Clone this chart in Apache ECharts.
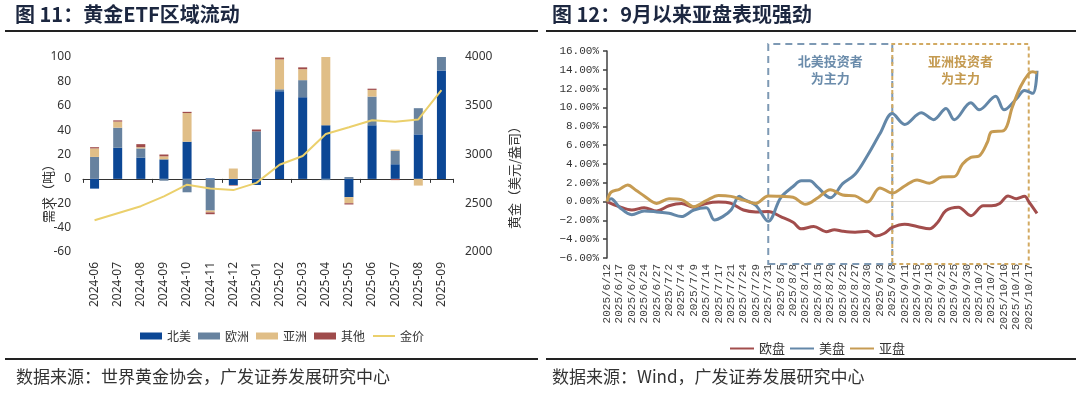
<!DOCTYPE html>
<html><head><meta charset="utf-8">
<script src="https://cdn.jsdelivr.net/npm/echarts@6/dist/echarts.min.js"></script>
<style>html,body{margin:0;padding:0;background:#fff}#c{width:1080px;height:393px}</style>
</head><body><div id="c"></div>
<script>
// ---------- Left chart: 黄金ETF区域流动 ----------
const months = ['2024-06','2024-07','2024-08','2024-09','2024-10','2024-11','2024-12','2025-01','2025-02','2025-03','2025-04','2025-05','2025-06','2025-07','2025-08','2025-09'];
const northAmerica = [-8, 25.5, 17.5, 16, 30.5, 0.5, -5, -5, 72, 67, 44, -15, 44, 12, 36.5, 89];
const europe      = [18, 16.5, 7.5, -1.5, -11, -26, 0, 39, 1.5, 14, -1, 1.5, 23.5, 11, 21.5, 11];
const asia        = [7, 5, 1, 2.5, 23.5, -1.5, 8.5, 0, 24.5, 9, 56, -5, 5.5, 1, -5.5, 0];
const others      = [1, 1, 2.5, 1.5, 1, -1.5, -0.5, 1.5, 1.5, 1.5, 0, -1, 1, -1, 0, 0];
const goldPrice   = [2326, 2398, 2470, 2570, 2690, 2651, 2635, 2709, 2895, 2984, 3210, 3280, 3352, 3337, 3360, 3660];

// ---------- Right chart: 9月以来亚盘表现强劲 ----------
const dateLabels = ['2025/6/12','2025/6/17','2025/6/20','2025/6/24','2025/6/27','2025/7/2','2025/7/4','2025/7/9','2025/7/14','2025/7/17','2025/7/21','2025/7/24','2025/7/29','2025/7/31','2025/8/5','2025/8/8','2025/8/12','2025/8/15','2025/8/20','2025/8/22','2025/8/27','2025/8/30','2025/9/3','2025/9/8','2025/9/11','2025/9/15','2025/9/18','2025/9/23','2025/9/25','2025/9/30','2025/10/3','2025/10/7','2025/10/10','2025/10/15','2025/10/17'];
// [trading-day index, cumulative %]; labels mark every 3rd trading day
const euSession = [[0,0],[3,-0.55],[6,-0.9],[9,-0.65],[12,-1.0],[15,-0.45],[18,-0.2],[21,-0.6],[24,-0.2],[27,-0.05],[30,-0.2],[33,-0.9],[36,-1.1],[39,-1.05],[42,-1.6],[45,-2.2],[47,-2.9],[50,-2.65],[53,-3.2],[55,-3.0],[57,-3.15],[60,-3.25],[63,-3.15],[65,-3.65],[67,-3.4],[69,-2.75],[72,-2.4],[75,-2.65],[78,-2.9],[80,-2.2],[82,-0.95],[85,-0.6],[88,-1.5],[91,-0.45],[93,-0.45],[95,-0.2],[97,0.6],[99,0.3],[101,0.55],[102,0.0],[104,-1.25]];
const usSession = [[0,0],[1,0.3],[3,-0.6],[6,-1.4],[9,-1.0],[12,-1.1],[15,-1.25],[18,-1.6],[21,-0.9],[24,-0.65],[26,-1.95],[28,-1.6],[30,-0.9],[32,0.55],[33,0.25],[36,-0.4],[39,-2.1],[42,0.4],[45,1.6],[47,2.2],[49,2.2],[51,1.5],[54,0.4],[57,1.9],[60,2.9],[63,4.9],[66,7.2],[69,9.35],[72,8.2],[76,9.45],[79,8.7],[82,9.9],[84,8.7],[88,10.5],[90,9.75],[94,11.2],[96,9.75],[99,10.9],[101,11.8],[103,11.5],[104,13.9]];
const asiaSession = [[0,0],[1,1.0],[3,1.3],[5,1.75],[7,1.2],[9,0.6],[12,-0.2],[15,0.3],[18,0.2],[21,-0.55],[24,0.1],[27,0.65],[30,0.55],[33,0.15],[36,-0.2],[39,0.6],[42,0.55],[45,0.45],[48,-0.3],[51,0.4],[54,1.25],[57,0.7],[60,0.6],[63,-0.05],[66,1.45],[69,0.9],[72,1.65],[75,2.3],[78,1.95],[81,2.6],[84,2.65],[86,4.0],[88,4.7],[90,4.85],[92,6.3],[93,7.4],[96,7.55],[98,10.0],[100,12.2],[102,13.6],[103,13.8],[104,13.65]];
const naBoxRange = ['2025/7/31', '2025/9/8'];
const asiaBoxRange = ['2025/9/8', '2025/10/17'];

// category list: each label followed by two unlabelled trading days
const dayCats = dateLabels.flatMap(d => [d, d + '#1', d + '#2']);

const SANS = "'Noto Sans', 'Noto Sans CJK SC', sans-serif";
const CJK = "'Noto Sans CJK SC', sans-serif";
const MONO = "'Liberation Mono', 'Noto Sans CJK SC', monospace";
const noSym = {opacity: 0};

const chart = echarts.init(document.getElementById('c'));
chart.setOption({
  animation: false,
  backgroundColor: '#fff',
  title: [
    {text: '图 11：黄金ETF区域流动', left: 15, top: 4, padding: 0,
     textStyle: {fontFamily: CJK, fontSize: 20, fontWeight: 'bold', color: '#1c2740'}},
    {text: '图 12：9月以来亚盘表现强劲', left: 552, top: 4, padding: 0,
     textStyle: {fontFamily: CJK, fontSize: 20, fontWeight: 'bold', color: '#1c2740'}},
    {text: '数据来源：世界黄金协会，广发证券发展研究中心', left: 16, top: 368, padding: 0,
     textStyle: {fontFamily: CJK, fontSize: 17, fontWeight: 'normal', color: '#333'}},
    {text: '数据来源：Wind，广发证券发展研究中心', left: 552, top: 368, padding: 0,
     textStyle: {fontFamily: CJK, fontSize: 17, fontWeight: 'normal', color: '#333'}}
  ],
  graphic: [
    {type: 'line', shape: {x1: 5, y1: 31, x2: 538, y2: 31}, style: {stroke: '#222', lineWidth: 2}},
    {type: 'line', shape: {x1: 546, y1: 31, x2: 1076, y2: 31}, style: {stroke: '#222', lineWidth: 2}},
    {type: 'line', shape: {x1: 5, y1: 359, x2: 538, y2: 359}, style: {stroke: '#222', lineWidth: 2}},
    {type: 'line', shape: {x1: 546, y1: 359, x2: 1076, y2: 359}, style: {stroke: '#222', lineWidth: 2}}
  ],
  legend: [
    {left: 135, top: 325, itemWidth: 22, itemHeight: 7, itemGap: 7,
     textStyle: {fontFamily: CJK, fontSize: 12, color: '#333'},
     data: [{name: '北美', icon: 'rect'}, {name: '欧洲', icon: 'rect'}, {name: '亚洲', icon: 'rect'}, {name: '其他', icon: 'rect'}, {name: '金价', itemStyle: noSym}]},
    {left: 724, top: 337, itemWidth: 24, itemHeight: 8, itemGap: 4,
     textStyle: {fontFamily: CJK, fontSize: 13, color: '#333'},
     data: [{name: '欧盘', itemStyle: noSym}, {name: '美盘', itemStyle: noSym}, {name: '亚盘', itemStyle: noSym}]}
  ],
  grid: [
    {left: 83, width: 370, top: 57, height: 195},
    {left: 607, width: 430, top: 51, height: 207},
    {left: 607, width: 430, top: 44, height: 220}
  ],
  xAxis: [
    {type: 'category', gridIndex: 0, data: months, position: 'bottom',
     axisLine: {onZero: true, lineStyle: {color: '#333', width: 1}},
     axisTick: {show: true, length: 4, lineStyle: {color: '#333'}},
     axisLabel: {show: false}, splitLine: {show: false}},
    {type: 'category', gridIndex: 0, data: months, position: 'bottom',
     axisLine: {show: false, onZero: false}, axisTick: {show: false},
     axisLabel: {rotate: 90, margin: 10, fontFamily: SANS, fontSize: 12, color: '#333', interval: 0}},
    {type: 'category', gridIndex: 1, data: dayCats, boundaryGap: false, position: 'bottom',
     axisLine: {onZero: true, lineStyle: {color: '#dcdcdc', width: 1}},
     axisTick: {show: false}, axisLabel: {show: false}},
    {type: 'category', gridIndex: 1, data: dayCats, boundaryGap: false, position: 'bottom',
     axisLine: {show: false, onZero: false}, axisTick: {show: false},
     axisLabel: {rotate: 90, margin: 6, interval: 2, fontFamily: MONO, fontSize: 11, color: '#444'}},
    {type: 'category', gridIndex: 2, data: dayCats, boundaryGap: false, show: false}
  ],
  yAxis: [
    {type: 'value', gridIndex: 0, min: -60, max: 100, interval: 20, position: 'left',
     name: '需求（吨）', nameLocation: 'middle', nameGap: 28, nameRotate: 90, nameMoveOverlap: false,
     nameTextStyle: {fontFamily: CJK, fontSize: 13, color: '#333', padding: [0, 72, 0, 0]},
     axisLine: {show: false}, axisTick: {show: false}, splitLine: {show: false},
     axisLabel: {margin: 12, fontFamily: SANS, fontSize: 12, color: '#333'}},
    {type: 'value', gridIndex: 0, min: 2000, max: 4000, interval: 500, position: 'right',
     name: '黄金（美元/盎司）', nameLocation: 'middle', nameGap: 55, nameRotate: 90,
     nameTextStyle: {fontFamily: CJK, fontSize: 13, color: '#333', padding: [0, 40, 0, 0]},
     axisLine: {show: false}, axisTick: {show: false}, splitLine: {show: false},
     axisLabel: {margin: 12, fontFamily: SANS, fontSize: 12, color: '#333', formatter: v => String(v)}},
    {type: 'value', gridIndex: 1, min: -6, max: 16, interval: 2, position: 'left',
     axisLine: {show: true, lineStyle: {color: '#404040', width: 1.5}},
     axisTick: {show: true, length: 4, lineStyle: {color: '#404040', width: 1.5}},
     splitLine: {show: false},
     axisLabel: {margin: 8, fontFamily: MONO, fontSize: 11, color: '#333',
       formatter: v => (v < 0 ? '\u2212' : '') + Math.abs(v).toFixed(2) + '%'}},
    {type: 'value', gridIndex: 2, min: 0, max: 1, show: false}
  ],
  series: [
    {name: '北美', type: 'bar', stack: 'etf', xAxisIndex: 0, yAxisIndex: 0, barWidth: 9,
     itemStyle: {color: '#0c4795'}, data: northAmerica},
    {name: '欧洲', type: 'bar', stack: 'etf', xAxisIndex: 0, yAxisIndex: 0, barWidth: 9,
     itemStyle: {color: '#67829f'}, data: europe},
    {name: '亚洲', type: 'bar', stack: 'etf', xAxisIndex: 0, yAxisIndex: 0, barWidth: 9,
     itemStyle: {color: '#e0be87'}, data: asia},
    {name: '其他', type: 'bar', stack: 'etf', xAxisIndex: 0, yAxisIndex: 0, barWidth: 9,
     itemStyle: {color: '#9f4b4b'}, data: others},
    {name: '金价', type: 'line', xAxisIndex: 0, yAxisIndex: 1, symbol: 'none',
     lineStyle: {color: '#ebd06c', width: 2}, itemStyle: {color: '#ebd06c'}, data: goldPrice, z: 3},
    {type: 'line', xAxisIndex: 4, yAxisIndex: 3, data: [], silent: true, z: 1,
     markArea: {silent: true, data: [
       [{name: '北美投资者\n为主力', xAxis: naBoxRange[0], yAxis: 0,
         itemStyle: {color: 'rgba(0,0,0,0)', borderColor: '#7d99b4', borderWidth: 2, borderType: [7, 5]},
         label: {show: true, position: 'insideTop', distance: 10, fontFamily: CJK, fontSize: 13, fontWeight: 'bold', color: '#6b8cab', lineHeight: 17}},
        {xAxis: naBoxRange[1], yAxis: 1}],
       [{name: '亚洲投资者\n为主力', xAxis: asiaBoxRange[0], yAxis: 0,
         itemStyle: {color: 'rgba(0,0,0,0)', borderColor: '#d2aa62', borderWidth: 2, borderType: [4, 3]},
         label: {show: true, position: 'insideTop', distance: 10, fontFamily: CJK, fontSize: 13, fontWeight: 'bold', color: '#c49a50', lineHeight: 17}},
        {xAxis: asiaBoxRange[1], yAxis: 1}]
     ]}},
    {name: '欧盘', type: 'line', xAxisIndex: 2, yAxisIndex: 2, symbol: 'none', smooth: 0.35,
     lineStyle: {color: '#a24d4c', width: 3}, itemStyle: {color: '#a24d4c'}, data: euSession, z: 3},
    {name: '美盘', type: 'line', xAxisIndex: 2, yAxisIndex: 2, symbol: 'none', smooth: 0.35,
     lineStyle: {color: '#6387a8', width: 3}, itemStyle: {color: '#6387a8'}, data: usSession, z: 3},
    {name: '亚盘', type: 'line', xAxisIndex: 2, yAxisIndex: 2, symbol: 'none', smooth: 0.35,
     lineStyle: {color: '#c69b52', width: 3}, itemStyle: {color: '#c69b52'}, data: asiaSession, z: 3}
  ]
});
</script>
</body></html>
